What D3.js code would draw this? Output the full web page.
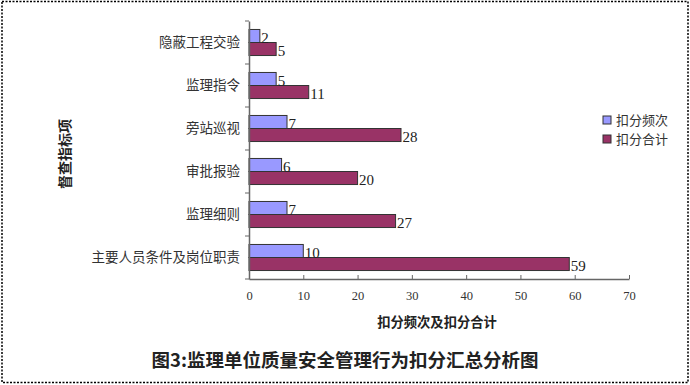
<!DOCTYPE html>
<html>
<head>
<meta charset="utf-8">
<script src="https://cdn.jsdelivr.net/npm/d3@7"></script>
<style>
  body { margin: 0; background: #fff; }
  text { fill: #222; }
</style>
</head>
<body>
<svg width="690" height="385"></svg>
<script>
var svg = d3.select("svg");
var blue_color = "#9999FF";
var red_color = "#993366";
var cjk_font = "'Noto Sans CJK SC', sans-serif";
var num_font = "'Liberation Serif', serif";

// data
var categories = ["隐蔽工程交验", "监理指令", "旁站巡视", "审批报验", "监理细则", "主要人员条件及岗位职责"];
var series = ["扣分频次", "扣分合计"];
var freq_values = [2, 5, 7, 6, 7, 10];
var total_values = [5, 11, 28, 20, 27, 59];
var x_ticks = [0, 10, 20, 30, 40, 50, 60, 70];

// outer dotted frame
svg.append("rect")
   .attr("x", 2).attr("y", 1.5)
   .attr("width", 686).attr("height", 381)
   .attr("fill", "none")
   .attr("stroke", "#000")
   .attr("stroke-width", 1.5)
   .attr("stroke-dasharray", "2,1.5");

var x = d3.scaleLinear().domain([0, 70]).range([249, 629]);
var y = d3.scaleBand().domain(categories).range([21, 279]);
var ys = d3.scaleBand().domain(series).range([0, y.bandwidth()])
           .paddingInner(0).paddingOuter(0.65);
var colors = d3.scaleOrdinal().domain(series).range([blue_color, red_color]);

var rows = categories.map(function(c, i) {
    return {cat: c, vals: [{s: series[0], v: freq_values[i]}, {s: series[1], v: total_values[i]}]};
});

// bars
var groups = svg.append("g").selectAll("g")
    .data(rows).enter().append("g")
    .attr("transform", function(d) { return "translate(0," + y(d.cat) + ")"; });

groups.selectAll("rect")
    .data(function(d) { return d.vals; })
    .enter().append("rect")
    .attr("x", x(0))
    .attr("y", function(d) { return ys(d.s); })
    .attr("width", function(d) { return x(d.v) - x(0); })
    .attr("height", ys.bandwidth())
    .attr("fill", function(d) { return colors(d.s); })
    .attr("stroke", "#333")
    .attr("stroke-width", 1);

groups.selectAll("text")
    .data(function(d) { return d.vals; })
    .enter().append("text")
    .attr("x", function(d) { return x(d.v) + 1.5; })
    .attr("y", function(d) { return ys(d.s) + ys.bandwidth(); })
    .text(function(d) { return d.v; })
    .style("font-family", num_font)
    .style("font-size", "15px");

// y axis
var yAxis = svg.append("g")
    .attr("transform", "translate(" + x(0) + ",0)")
    .call(d3.axisLeft(y).tickSize(0).tickPadding(9));
yAxis.select(".domain").attr("stroke", "#666").attr("stroke-width", 1.5);
yAxis.selectAll("text")
    .style("font-family", cjk_font)
    .style("font-size", "13.5px")
    .style("fill", "#333");
// tick marks at band boundaries
var bounds = categories.map(function(c) { return y(c); }).concat([y.range()[1]]);
svg.append("g").selectAll("line")
   .data(bounds).enter().append("line")
   .attr("x1", x(0) - 4).attr("x2", x(0))
   .attr("y1", function(d) { return d; })
   .attr("y2", function(d) { return d; })
   .attr("stroke", "#666").attr("stroke-width", 1);

// x axis
var xAxis = svg.append("g")
    .attr("transform", "translate(0,279)")
    .call(d3.axisBottom(x).tickValues(x_ticks).tickSizeInner(-4).tickSizeOuter(0).tickPadding(12));
xAxis.select(".domain").attr("stroke", "#666").attr("stroke-width", 1.5);
xAxis.selectAll(".tick line").attr("stroke", "#666");
xAxis.selectAll("text")
    .style("font-family", num_font)
    .style("font-size", "12.5px")
    .style("fill", "#333");

// axis titles
svg.append("text")
   .attr("x", 437).attr("y", 327)
   .attr("text-anchor", "middle")
   .text("扣分频次及扣分合计")
   .style("font-family", cjk_font)
   .style("font-weight", "bold")
   .style("font-size", "13.3px");

svg.append("text")
   .attr("transform", "translate(70,154) rotate(-90)")
   .attr("text-anchor", "middle")
   .text("督查指标项")
   .style("font-family", cjk_font)
   .style("font-weight", "bold")
   .style("font-size", "14px");

// legend
var legend = svg.append("g").selectAll("g")
    .data(series).enter().append("g")
    .attr("transform", function(d, i) { return "translate(603," + (116 + i * 19) + ")"; });
legend.append("rect")
   .attr("width", 8).attr("height", 8)
   .attr("fill", function(d) { return colors(d); })
   .attr("stroke", "#333");
legend.append("text")
   .attr("x", 13).attr("y", 8.5)
   .text(function(d) { return d; })
   .style("font-family", cjk_font)
   .style("font-size", "13px")
   .style("fill", "#333");

// chart title
svg.append("text")
   .attr("x", 345).attr("y", 367)
   .attr("text-anchor", "middle")
   .text("图3:监理单位质量安全管理行为扣分汇总分析图")
   .style("font-family", cjk_font)
   .style("font-weight", "bold")
   .style("font-size", "18.5px");
</script>
</body>
</html>
